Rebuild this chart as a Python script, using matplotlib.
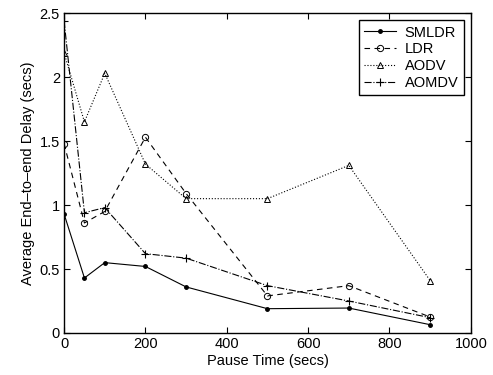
import matplotlib.pyplot as plt

plt.rcParams['font.family'] = ['Liberation Sans', 'DejaVu Sans']

pause = [0, 50, 100, 200, 300, 500, 700, 900]
smldr = [0.93, 0.43, 0.55, 0.52, 0.36, 0.19, 0.195, 0.065]
ldr = [1.48, 0.86, 0.95, 1.53, 1.09, 0.29, 0.37, 0.125]
aodv = [2.19, 1.65, 2.03, 1.32, 1.05, 1.05, 1.31, 0.41]
aomdv = [2.44, 0.94, 0.98, 0.62, 0.585, 0.37, 0.25, 0.12]

fig = plt.figure(figsize=(4.93, 3.75), dpi=100)
ax = fig.add_axes([0.13, 0.112, 0.825, 0.853])

lw = 0.8
ax.plot(pause, smldr, '-', color='black', lw=lw, marker='.', ms=5, label='SMLDR')
ax.plot(pause, ldr, '--', color='black', lw=lw, marker='o', ms=4.5, mfc='none',
        mew=0.7, dashes=(5, 4), label='LDR')
ax.plot(pause, aodv, ':', color='black', lw=lw, marker='^', ms=4.5, mfc='none',
        mew=0.7, label='AODV')
ax.plot(pause, aomdv, '-.', color='black', lw=lw, marker='+', ms=6, mew=0.8,
        label='AOMDV')

ax.set_xlim(0, 1000)
ax.set_ylim(0, 2.5)
ax.set_xticks([0, 200, 400, 600, 800, 1000])
ax.set_yticks([0, 0.5, 1, 1.5, 2, 2.5])
ax.set_yticklabels(['0', '0.5', '1', '1.5', '2', '2.5'])
ax.tick_params(direction='in', top=True, right=True, labelsize=10.5, length=4,
               width=0.8, pad=3)
for s in ax.spines.values():
    s.set_linewidth(1.0)

ax.set_xlabel('Pause Time (secs)', fontsize=10.5, labelpad=2)
ax.set_ylabel('Average End\u2013to\u2013end Delay (secs)', fontsize=10.5, labelpad=3)

leg = ax.legend(loc='upper right', fontsize=10.5, fancybox=False, framealpha=1,
                edgecolor='black', borderpad=0.35, labelspacing=0.2,
                handlelength=2.2, handletextpad=0.6, borderaxespad=0.5)
leg.get_frame().set_linewidth(1.0)

fig.savefig('out.png', dpi=100)
